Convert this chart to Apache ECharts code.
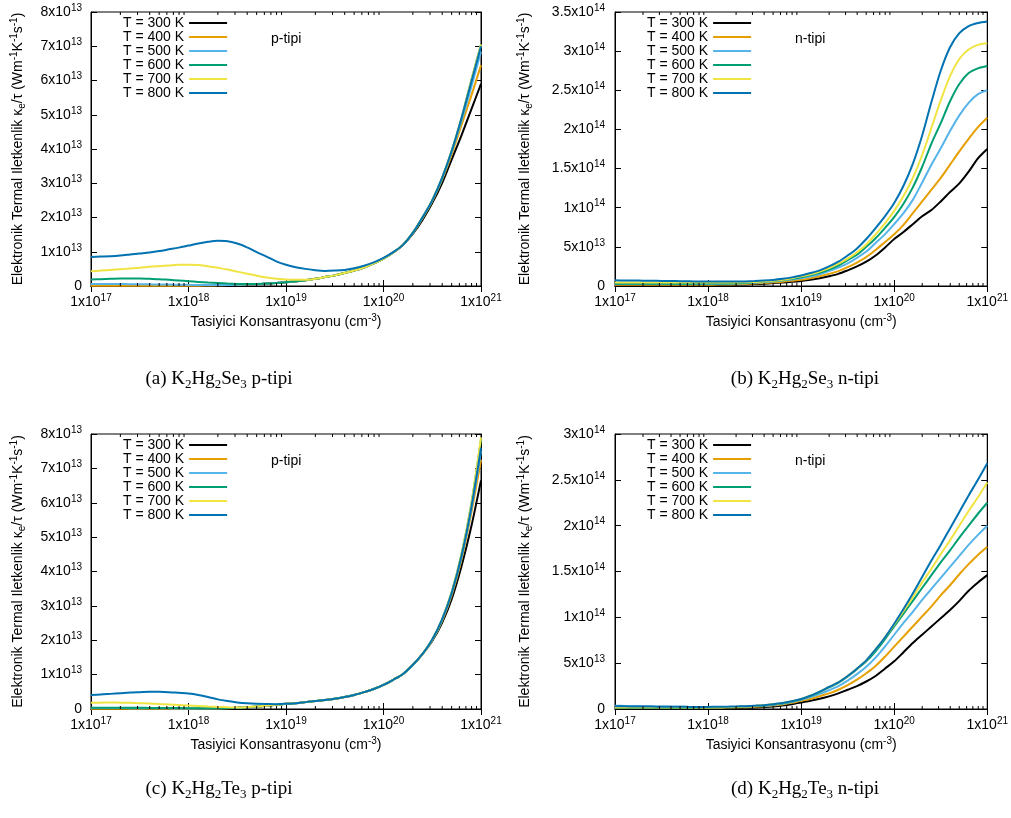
<!DOCTYPE html>
<html>
<head>
<meta charset="utf-8">
<title>K2Hg2Se3 / K2Hg2Te3 elektronik termal iletkenlik</title>
<script src="https://cdn.jsdelivr.net/npm/echarts@6/dist/echarts.min.js"></script>
<style>
  html, body { margin: 0; padding: 0; background: #fff; }
  #main { width: 1011px; height: 818px; }
</style>
</head>
<body>
<div id="main"></div>
<script>
// carrier concentration, as powers of ten (x axis)
var logN = [17.0, 17.1, 17.2, 17.3, 17.4, 17.5, 17.6, 17.7, 17.8, 17.9,
            18.0, 18.1, 18.2, 18.3, 18.4, 18.5, 18.6, 18.7, 18.8, 18.9,
            19.0, 19.1, 19.2, 19.3, 19.4, 19.5, 19.6, 19.7, 19.8, 19.9,
            20.0, 20.1, 20.2, 20.3, 20.4, 20.5, 20.6, 20.7, 20.8, 20.9, 21.0];
var temps = ['T = 300 K', 'T = 400 K', 'T = 500 K', 'T = 600 K', 'T = 700 K', 'T = 800 K'];
var colors = ['#000000', '#e69f00', '#56b4e9', '#009e73', '#f0e442', '#0072b2'];

// (a) K2Hg2Se3 p-tipi, units of 1e13
var seP300 = [0,0,0,0,0,0,0,0,0.002,0.004,
  0.007,0.01,0.015,0.02,0.028,0.035,0.045,0.055,0.07,0.09,
  0.11,0.14,0.17,0.21,0.26,0.31,0.38,0.45,0.54,0.66,
  0.8,0.98,1.2,1.52,1.93,2.42,3.0,3.7,4.4,5.15,5.9];
var seP400 = [0.01,0.01,0.01,0.01,0.01,0.01,0.01,0.01,0.01,0.01,
  0.01,0.01,0.015,0.02,0.028,0.035,0.045,0.055,0.07,0.09,
  0.11,0.14,0.17,0.21,0.26,0.31,0.38,0.45,0.54,0.66,
  0.8,0.98,1.2,1.55,1.98,2.48,3.1,3.85,4.7,5.55,6.45];
var seP500 = [0.06,0.06,0.058,0.056,0.054,0.051,0.048,0.045,0.041,0.037,
  0.033,0.03,0.028,0.027,0.028,0.035,0.045,0.055,0.07,0.09,
  0.11,0.14,0.17,0.21,0.26,0.31,0.38,0.45,0.54,0.66,
  0.8,0.98,1.2,1.55,2.0,2.5,3.12,3.92,4.82,5.8,6.85];
var seP600 = [0.19,0.2,0.21,0.22,0.22,0.22,0.21,0.2,0.18,0.16,
  0.14,0.12,0.1,0.085,0.07,0.06,0.055,0.058,0.07,0.09,
  0.11,0.14,0.17,0.21,0.26,0.31,0.38,0.45,0.54,0.66,
  0.8,0.98,1.2,1.55,2.0,2.5,3.15,3.95,4.9,6.0,7.05];
var seP700 = [0.43,0.45,0.47,0.49,0.51,0.53,0.56,0.58,0.6,0.62,
  0.62,0.61,0.58,0.53,0.48,0.42,0.36,0.3,0.25,0.21,
  0.19,0.18,0.18,0.21,0.26,0.31,0.38,0.45,0.54,0.66,
  0.8,0.98,1.2,1.55,2.0,2.5,3.15,3.95,4.9,6.0,7.05];
var seP800 = [0.85,0.86,0.87,0.89,0.92,0.95,0.98,1.02,1.07,1.12,
  1.18,1.24,1.29,1.32,1.31,1.24,1.13,0.99,0.86,0.72,
  0.62,0.55,0.5,0.46,0.44,0.45,0.47,0.52,0.59,0.69,
  0.82,0.99,1.2,1.55,2.0,2.5,3.15,3.95,4.9,5.95,7.0];

// (b) K2Hg2Se3 n-tipi, units of 1e14
var seN300 = [0.01,0.01,0.01,0.01,0.01,0.01,0.01,0.01,0.01,0.01,
  0.011,0.012,0.014,0.016,0.02,0.024,0.03,0.037,0.045,0.054,
  0.065,0.08,0.1,0.125,0.155,0.2,0.25,0.31,0.39,0.49,
  0.6,0.69,0.79,0.89,0.97,1.08,1.2,1.31,1.46,1.63,1.75];
var seN400 = [0.015,0.015,0.015,0.015,0.015,0.015,0.015,0.015,0.015,0.015,
  0.016,0.018,0.02,0.022,0.027,0.032,0.038,0.046,0.055,0.067,
  0.08,0.1,0.125,0.155,0.19,0.24,0.3,0.37,0.46,0.56,
  0.66,0.78,0.93,1.08,1.23,1.38,1.55,1.72,1.88,2.03,2.15];
var seN500 = [0.025,0.025,0.025,0.025,0.025,0.025,0.025,0.025,0.025,0.025,
  0.026,0.027,0.029,0.031,0.036,0.042,0.049,0.058,0.07,0.084,
  0.1,0.12,0.15,0.19,0.235,0.29,0.36,0.44,0.55,0.66,
  0.79,0.93,1.1,1.32,1.55,1.76,1.98,2.18,2.34,2.45,2.5];
var seN600 = [0.03,0.03,0.03,0.03,0.03,0.03,0.03,0.03,0.03,0.03,
  0.031,0.032,0.033,0.035,0.04,0.045,0.053,0.063,0.077,0.094,
  0.113,0.14,0.17,0.21,0.26,0.33,0.4,0.5,0.61,0.74,
  0.88,1.05,1.26,1.52,1.82,2.08,2.36,2.58,2.72,2.78,2.81];
var seN700 = [0.045,0.045,0.045,0.045,0.045,0.045,0.045,0.045,0.045,0.045,
  0.045,0.045,0.045,0.045,0.047,0.05,0.056,0.066,0.08,0.1,
  0.123,0.15,0.185,0.23,0.285,0.35,0.43,0.53,0.66,0.8,
  0.96,1.15,1.38,1.67,2.02,2.37,2.68,2.9,3.02,3.08,3.1];
var seN800 = [0.072,0.071,0.07,0.068,0.067,0.065,0.063,0.062,0.06,0.058,
  0.057,0.056,0.056,0.057,0.059,0.063,0.069,0.078,0.092,0.11,
  0.135,0.165,0.2,0.25,0.31,0.39,0.48,0.6,0.74,0.89,
  1.06,1.28,1.56,1.92,2.35,2.75,3.05,3.23,3.32,3.36,3.38];

// (c) K2Hg2Te3 p-tipi, units of 1e13
var teP300 = [0,0,0,0,0,0,0,0,0,0,
  0.005,0.008,0.012,0.018,0.025,0.035,0.05,0.07,0.095,0.12,
  0.15,0.17,0.2,0.23,0.26,0.3,0.35,0.41,0.49,0.58,
  0.7,0.85,1.02,1.28,1.6,1.98,2.5,3.2,4.15,5.3,6.65];
var teP400 = [0.01,0.01,0.01,0.01,0.01,0.01,0.01,0.01,0.01,0.01,
  0.01,0.011,0.013,0.018,0.025,0.035,0.05,0.07,0.095,0.12,
  0.15,0.17,0.2,0.23,0.26,0.3,0.35,0.41,0.49,0.58,
  0.7,0.85,1.02,1.28,1.6,2.0,2.56,3.32,4.35,5.7,7.25];
var teP500 = [0.03,0.029,0.028,0.027,0.025,0.024,0.022,0.02,0.019,0.017,
  0.016,0.015,0.015,0.019,0.026,0.036,0.05,0.07,0.095,0.12,
  0.15,0.17,0.2,0.23,0.26,0.3,0.35,0.41,0.49,0.58,
  0.7,0.85,1.02,1.28,1.6,2.01,2.58,3.36,4.42,5.8,7.5];
var teP600 = [0.04,0.04,0.039,0.038,0.036,0.034,0.032,0.03,0.028,0.026,
  0.024,0.022,0.021,0.022,0.027,0.037,0.051,0.07,0.095,0.12,
  0.15,0.17,0.2,0.23,0.26,0.3,0.35,0.41,0.49,0.58,
  0.7,0.85,1.02,1.28,1.6,2.02,2.6,3.4,4.5,5.95,7.85];
var teP700 = [0.18,0.185,0.19,0.185,0.18,0.17,0.16,0.145,0.13,0.115,
  0.1,0.085,0.07,0.06,0.05,0.045,0.055,0.072,0.095,0.12,
  0.15,0.17,0.2,0.23,0.26,0.3,0.35,0.41,0.49,0.58,
  0.7,0.85,1.02,1.28,1.6,2.02,2.6,3.4,4.5,5.95,7.9];
var teP800 = [0.41,0.42,0.44,0.46,0.48,0.49,0.5,0.5,0.49,0.47,
  0.45,0.41,0.35,0.28,0.23,0.19,0.165,0.152,0.145,0.14,
  0.15,0.17,0.2,0.23,0.26,0.3,0.35,0.41,0.49,0.58,
  0.7,0.85,1.02,1.28,1.6,2.02,2.6,3.38,4.45,5.85,7.6];

// (d) K2Hg2Te3 n-tipi, units of 1e14
var teN300 = [0.005,0.005,0.005,0.005,0.005,0.005,0.005,0.005,0.005,0.005,
  0.007,0.008,0.009,0.011,0.013,0.016,0.021,0.028,0.038,0.053,
  0.072,0.09,0.112,0.138,0.17,0.21,0.25,0.3,0.36,0.44,
  0.52,0.62,0.72,0.81,0.9,0.99,1.08,1.18,1.29,1.38,1.46];
var teN400 = [0.01,0.01,0.01,0.01,0.01,0.01,0.01,0.01,0.01,0.01,
  0.012,0.013,0.015,0.017,0.02,0.024,0.03,0.038,0.05,0.067,
  0.09,0.11,0.14,0.17,0.21,0.26,0.32,0.39,0.47,0.57,
  0.68,0.79,0.9,1.01,1.12,1.24,1.35,1.47,1.58,1.68,1.77];
var teN500 = [0.035,0.034,0.032,0.031,0.029,0.028,0.026,0.025,0.023,0.022,
  0.021,0.021,0.022,0.024,0.027,0.031,0.036,0.044,0.056,0.075,
  0.1,0.13,0.165,0.205,0.25,0.31,0.38,0.46,0.56,0.68,
  0.81,0.94,1.06,1.19,1.31,1.43,1.55,1.67,1.79,1.9,2.0];
var teN600 = [0.015,0.015,0.015,0.015,0.015,0.015,0.015,0.015,0.015,0.015,
  0.016,0.017,0.019,0.022,0.026,0.032,0.039,0.049,0.062,0.082,
  0.108,0.142,0.185,0.235,0.285,0.355,0.435,0.52,0.63,0.76,
  0.9,1.04,1.18,1.32,1.46,1.6,1.73,1.87,2.0,2.13,2.25];
var teN700 = [0.02,0.02,0.02,0.019,0.019,0.019,0.018,0.018,0.018,0.018,
  0.018,0.019,0.021,0.024,0.028,0.034,0.041,0.051,0.064,0.084,
  0.11,0.145,0.19,0.24,0.29,0.36,0.44,0.53,0.65,0.78,
  0.92,1.07,1.22,1.38,1.53,1.69,1.84,2.0,2.16,2.31,2.47];
var teN800 = [0.03,0.029,0.028,0.027,0.026,0.025,0.024,0.024,0.023,0.023,
  0.023,0.024,0.025,0.028,0.031,0.036,0.042,0.052,0.065,0.085,
  0.11,0.145,0.19,0.24,0.29,0.36,0.44,0.53,0.65,0.78,
  0.93,1.09,1.26,1.44,1.62,1.79,1.97,2.15,2.33,2.5,2.68];

// tick labels ("^" marks the exponent)
var xTickLabels = ['1x10^17', '1x10^18', '1x10^19', '1x10^20', '1x10^21'];
var yTickLabelsP = ['0', '1x10^13', '2x10^13', '3x10^13', '4x10^13', '5x10^13', '6x10^13', '7x10^13', '8x10^13'];
var yTickLabelsSeN = ['0', '5x10^13', '1x10^14', '1.5x10^14', '2x10^14', '2.5x10^14', '3x10^14', '3.5x10^14'];
var yTickLabelsTeN = ['0', '5x10^13', '1x10^14', '1.5x10^14', '2x10^14', '2.5x10^14', '3x10^14'];

var panels = [
  { grid: { left: 91, top: 12, width: 390, height: 274 }, series: [seP300, seP400, seP500, seP600, seP700, seP800],
    yMax: 8, yStep: 1, yLabels: yTickLabelsP, tag: 'p-tipi', caption: '(a) K{sub|2}Hg{sub|2}Se{sub|3} p-tipi' },
  { grid: { left: 615, top: 12, width: 373, height: 274 }, series: [seN300, seN400, seN500, seN600, seN700, seN800],
    yMax: 3.5, yStep: 0.5, yLabels: yTickLabelsSeN, tag: 'n-tipi', caption: '(b) K{sub|2}Hg{sub|2}Se{sub|3} n-tipi' },
  { grid: { left: 91, top: 434, width: 390, height: 275 }, series: [teP300, teP400, teP500, teP600, teP700, teP800],
    yMax: 8, yStep: 1, yLabels: yTickLabelsP, tag: 'p-tipi', caption: '(c) K{sub|2}Hg{sub|2}Te{sub|3} p-tipi' },
  { grid: { left: 615, top: 434, width: 373, height: 275 }, series: [teN300, teN400, teN500, teN600, teN700, teN800],
    yMax: 3, yStep: 0.5, yLabels: yTickLabelsTeN, tag: 'n-tipi', caption: '(d) K{sub|2}Hg{sub|2}Te{sub|3} n-tipi' }
];

var FONT = 'Liberation Sans';
var labelRich = {
  m: { fontFamily: FONT, fontSize: 14, lineHeight: 18, color: '#000' },
  s: { fontFamily: FONT, fontSize: 10, lineHeight: 6, verticalAlign: 'top', color: '#000' }
};
function sup(str) {
  var p = str.split('^');
  return p.length > 1 ? '{m|' + p[0] + '}{s|' + p[1] + '}' : '{m|' + str + '}';
}

// minor tick positions of the log axis (2..9 in each decade)
var minorTicks = [];
for (var d = 17; d < 21; d++) {
  for (var k = 2; k <= 9; k++) minorTicks.push([k * Math.pow(10, d), 0]);
}

var option = {
  backgroundColor: '#fff',
  animation: false,
  grid: [], xAxis: [], yAxis: [], series: [], legend: [], graphic: []
};

panels.forEach(function (p, g) {
  option.grid.push({ left: p.grid.left, top: p.grid.top, width: p.grid.width, height: p.grid.height,
    show: true, borderColor: '#000', borderWidth: 1, backgroundColor: 'transparent' });
  var nameGapY = p.grid.left > 500 ? 81 : 64;
  var xBase = { type: 'log', logBase: 10, min: 1e17, max: 1e21, gridIndex: g,
    axisLine: { lineStyle: { color: '#000', width: 1 } },
    axisTick: { inside: true, length: 6, lineStyle: { color: '#000' } },
    splitLine: { show: false }, minorTick: { show: false } };
  option.xAxis.push(Object.assign({}, xBase, {
    position: 'bottom',
    name: 'Tasiyici Konsantrasyonu (cm{s|-3})', nameLocation: 'middle', nameGap: 27,
    nameTextStyle: { fontFamily: FONT, fontSize: 14, lineHeight: 18, color: '#000', rich: labelRich },
    axisLabel: { margin: 7, rich: labelRich, formatter: function (v) {
      return sup(xTickLabels[Math.round(Math.log10(v)) - 17]);
    } }
  }));
  option.xAxis.push(Object.assign({}, xBase, { position: 'top', axisLabel: { show: false } }));

  var yBase = { type: 'value', min: 0, max: p.yMax, interval: p.yStep, gridIndex: g,
    axisLine: { lineStyle: { color: '#000', width: 1 } },
    axisTick: { inside: true, length: 6, lineStyle: { color: '#000' } },
    splitLine: { show: false } };
  option.yAxis.push(Object.assign({}, yBase, {
    position: 'left',
    name: 'Elektronik Termal Iletkenlik \u03ba{b|e}/\u03c4 (Wm{s|-1}K{s|-1}s{s|-1})',
    nameLocation: 'middle', nameGap: nameGapY, nameRotate: 90,
    nameTextStyle: { fontFamily: FONT, fontSize: 14, lineHeight: 18, color: '#000',
      rich: { s: labelRich.s, b: { fontFamily: FONT, fontSize: 10, lineHeight: 6, verticalAlign: 'bottom', color: '#000' } } },
    axisLabel: { margin: p.grid.left > 500 ? 10 : 9, rich: labelRich, formatter: (function (labels, step) {
      return function (v) { return sup(labels[Math.round(v / step)]); };
    })(p.yLabels, p.yStep) }
  }));
  option.yAxis.push(Object.assign({}, yBase, { position: 'right', axisLabel: { show: false } }));

  p.series.forEach(function (vals, i) {
    option.series.push({
      type: 'line', name: temps[i], xAxisIndex: 2 * g, yAxisIndex: 2 * g,
      data: logN.map(function (e, j) { return [Math.pow(10, e), vals[j]]; }),
      showSymbol: false, symbol: 'none', smooth: 0.3,
      color: colors[i], lineStyle: { width: 2, color: colors[i] }, z: 3 + i
    });
  });

  option.series.push({
    type: 'custom', xAxisIndex: 2 * g, yAxisIndex: 2 * g, silent: true, z: 10, clip: false,
    data: minorTicks,
    renderItem: function (params, api) {
      var x = api.coord([api.value(0), 0])[0];
      var cs = params.coordSys;
      var st = { stroke: '#000', lineWidth: 1 };
      return { type: 'group', children: [
        { type: 'line', shape: { x1: x, y1: cs.y + cs.height, x2: x, y2: cs.y + cs.height - 3 }, style: st },
        { type: 'line', shape: { x1: x, y1: cs.y, x2: x, y2: cs.y + 3 }, style: st }
      ] };
    }
  });

  option.legend.push({
    orient: 'vertical', left: p.grid.left + 32, top: p.grid.top + 4, align: 'right',
    icon: 'rect', itemWidth: 38, itemHeight: 2, itemGap: 0, padding: 0, selectedMode: false,
    textStyle: { fontFamily: FONT, fontSize: 14, lineHeight: 14, color: '#000' },
    data: temps
  });

  option.graphic.push({
    type: 'text', x: p.grid.left + 180, y: p.grid.top + 27,
    style: { text: p.tag, fontFamily: FONT, fontSize: 14, fill: '#000', align: 'left', verticalAlign: 'middle' }
  });
  option.graphic.push({
    type: 'text', x: g % 2 === 0 ? 219 : 805, y: g < 2 ? 379 : 789,
    style: { text: p.caption, fontFamily: 'Liberation Serif', fontSize: 19, lineHeight: 24, fill: '#000',
      align: 'center', verticalAlign: 'middle',
      rich: { sub: { fontFamily: 'Liberation Serif', fontSize: 13, lineHeight: 8, verticalAlign: 'bottom', fill: '#000' } } }
  });
});

var chart = echarts.init(document.getElementById('main'), null, { renderer: 'canvas' });
chart.setOption(option);
</script>
</body>
</html>
